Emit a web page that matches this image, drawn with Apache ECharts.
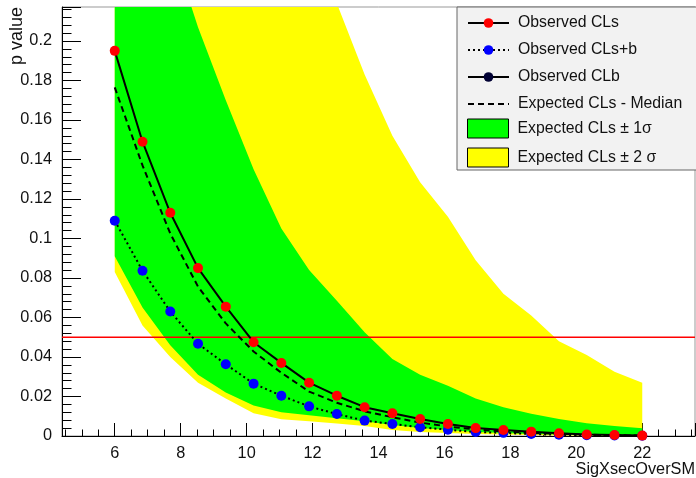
<!DOCTYPE html>
<html><head><meta charset="utf-8">
<script src="https://cdn.jsdelivr.net/npm/echarts@6/dist/echarts.min.js"></script>
<style>html,body{margin:0;padding:0;background:#fff}#c{width:696px;height:478px}</style>
</head><body><div id="c"></div>
<script>
// x positions (SigXsecOverSM)
const sigXsec = [6, 6.842, 7.684, 8.526, 9.368, 10.211, 11.053, 11.895, 12.737, 13.579,
  14.421, 15.263, 16.105, 16.947, 17.789, 18.632, 19.474, 20.316, 21.158, 22];
// Observed CLs (red)
const obsCLs = [0.195, 0.149, 0.113, 0.085, 0.0655, 0.0475, 0.037, 0.027, 0.0204, 0.0146,
  0.0115, 0.0086, 0.0061, 0.0040, 0.0030, 0.0022, 0.0014, 0.0008, 0.0005, 0.0002];
// Observed CLs+b (blue)
const obsCLsb = [0.109, 0.0837, 0.063, 0.0467, 0.0363, 0.0265, 0.0204, 0.015, 0.0111, 0.0078,
  0.0061, 0.0044, 0.0032, 0.0020, 0.0016, 0.0010, 0.0006, 0.0004, 0.0003, 0.0001];
// Observed CLb (off scale, above the plotted range)
const obsCLb = [0.56, 0.56, 0.56, 0.55, 0.55, 0.55, 0.55, 0.55, 0.54, 0.53,
  0.53, 0.52, 0.52, 0.51, 0.51, 0.50, 0.50, 0.50, 0.50, 0.50];
// Expected CLs median (dashed)
const expMedian = [0.1765, 0.137, 0.1025, 0.0756, 0.057, 0.0428, 0.032, 0.0225, 0.0168, 0.0125,
  0.0095, 0.0068, 0.0048, 0.0033, 0.0023, 0.0016, 0.0010, 0.0007, 0.0004, 0.0002];
// Expected +-1 sigma band
const expPlus1 = [0.36, 0.30, 0.25, 0.207, 0.170, 0.135, 0.105, 0.084, 0.0685, 0.0525,
  0.039, 0.031, 0.0255, 0.019, 0.0145, 0.0113, 0.0086, 0.0065, 0.005, 0.0039];
const expMinus1 = [0.091, 0.065, 0.046, 0.031, 0.022, 0.0155, 0.012, 0.0105, 0.009, 0.0075,
  0.0056, 0.004, 0.003, 0.002, 0.0015, 0.001, 0.0007, 0.0005, 0.0003, 0.0002];
// Expected +-2 sigma band
const expPlus2 = [0.70, 0.60, 0.53, 0.46, 0.40, 0.35, 0.30, 0.255, 0.219, 0.183,
  0.152, 0.1285, 0.111, 0.089, 0.072, 0.061, 0.048, 0.041, 0.0325, 0.027];
const expMinus2 = [0.083, 0.056, 0.040, 0.027, 0.019, 0.0115, 0.0085, 0.0075, 0.0063, 0.005,
  0.003, 0.002, 0.0015, 0.001, 0.0008, 0.0005, 0.0003, 0.0002, 0.0001, 0.0001];
// 95% CL limit line (p = 0.05) and axis range
const limitLine = 0.05;
const xRange = [4.4, 23.6];
const yRange = [0, 0.2172];

const FONT = '"Liberation Sans", Arial, Helvetica, sans-serif';
const TXT = '#111';
const pairs = ys => sigXsec.map((x, i) => [x, ys[i]]);

function band(name, lower, upper, color, z) {
  return {
    type: 'custom', name, clip: true, z, silent: true,
    itemStyle: { color },
    encode: { x: 0, y: [1, 2] },
    data: sigXsec.map((x, i) => [x, lower[i], upper[i]]),
    renderItem(params, api) {
      if (params.dataIndex !== 0) return null;
      const pts = [];
      for (let i = 0; i < sigXsec.length; i++) pts.push(api.coord([sigXsec[i], upper[i]]));
      for (let i = sigXsec.length - 1; i >= 0; i--) pts.push(api.coord([sigXsec[i], lower[i]]));
      return { type: 'polygon', shape: { points: pts }, style: { fill: color } };
    }
  };
}

const chart = echarts.init(document.getElementById('c'), null, { renderer: 'canvas' });
chart.setOption({
  animation: false,
  backgroundColor: '#fff',
  textStyle: { fontFamily: FONT },
  grid: { left: 62, right: 1, top: 7, bottom: 42, show: true, borderColor: '#999', borderWidth: 1,
          backgroundColor: 'transparent', containLabel: false, outerBoundsMode: 'none' },
  legend: [{
    orient: 'vertical', left: 457, top: 7, z: 10,
    padding: [8, 16, 58, 10], itemGap: 11, itemWidth: 41, itemHeight: 12,
    backgroundColor: '#f2f2f2', borderColor: '#666', borderWidth: 1, borderRadius: 0,
    selectedMode: false,
    textStyle: { fontFamily: FONT, fontSize: 15.8, color: TXT, padding: [0, 0, 0, 4] },
    data: [
      { name: 'Observed CLs' },
      { name: 'Observed CLs+b' },
      { name: 'Observed CLb' },
      { name: 'Expected CLs - Median', itemStyle: { color: 'rgba(0,0,0,0)', borderWidth: 0 } }
    ]
  }, {
    orient: 'vertical', left: 457, top: 118.5, z: 11,
    padding: [0, 0, 0, 10], itemGap: 9, itemWidth: 41, itemHeight: 19,
    selectedMode: false,
    textStyle: { fontFamily: FONT, fontSize: 15.8, color: TXT, padding: [0, 0, 0, 4] },
    data: [
      { name: 'Expected CLs \u00b1 1\u03c3', icon: 'rect', itemStyle: { color: '#00ff00', borderColor: '#000', borderWidth: 1 } },
      { name: 'Expected CLs \u00b1 2 \u03c3', icon: 'rect', itemStyle: { color: '#ffff00', borderColor: '#000', borderWidth: 1 } }
    ]
  }],
  graphic: [{
    type: 'text', right: 1, top: 462, silent: true,
    style: { text: 'SigXsecOverSM', fill: TXT, font: '16.3px ' + FONT }
  }],
  xAxis: {
    type: 'value', min: xRange[0], max: xRange[1], splitNumber: 10,
    axisLine: { onZero: false, lineStyle: { color: '#000', width: 1 } },
    axisTick: { inside: true, length: 13, lineStyle: { color: '#000' } },
    minorTick: { show: true, splitNumber: 4, length: 6.5, lineStyle: { color: '#000' } },
    axisLabel: { margin: 10, fontSize: 16.3, color: TXT, fontFamily: FONT, showMinLabel: false, showMaxLabel: false },
    splitLine: { show: false }
  },
  yAxis: {
    type: 'value', min: yRange[0], max: yRange[1], interval: 0.02,
    name: 'p value', nameLocation: 'end', nameGap: 0, nameRotate: 90,
    nameTextStyle: { align: 'right', verticalAlign: 'bottom', padding: [0, 0, 36, 0], fontSize: 18, fontFamily: FONT, color: TXT },
    axisLine: { onZero: false, lineStyle: { color: '#000', width: 1 } },
    axisTick: { inside: true, length: 19, lineStyle: { color: '#000' } },
    minorTick: { show: true, splitNumber: 5, length: 9.5, lineStyle: { color: '#000' } },
    axisLabel: { margin: 10, fontSize: 16.3, color: TXT, fontFamily: FONT, showMaxLabel: false },
    splitLine: { show: false }
  },
  series: [
    band('Expected CLs \u00b1 2 \u03c3', expMinus2, expPlus2, '#ffff00', 1),
    band('Expected CLs \u00b1 1\u03c3', expMinus1, expPlus1, '#00ff00', 2),
    {
      type: 'line', name: 'p = 0.05', data: xRange.map(x => [x, limitLine]), z: 3, silent: true,
      symbol: 'none', clip: true, itemStyle: { color: '#ff0000' }, lineStyle: { color: '#ff0000', width: 1.4 }
    },
    {
      type: 'line', name: 'Expected CLs - Median', data: pairs(expMedian), z: 4,
      symbol: 'none', clip: true, silent: true,
      itemStyle: { color: '#000' },
      lineStyle: { color: '#000', width: 2, type: [6, 4] }
    },
    {
      type: 'line', name: 'Observed CLb', data: pairs(obsCLb), z: 4,
      symbol: 'circle', symbolSize: 10, clip: true, silent: true,
      itemStyle: { color: '#000033' },
      lineStyle: { color: '#000', width: 2 }
    },
    {
      type: 'line', name: 'Observed CLs+b', data: pairs(obsCLsb), z: 5,
      symbol: 'circle', symbolSize: 10, clip: true, silent: true,
      itemStyle: { color: '#0000ff' },
      lineStyle: { color: '#000', width: 2, type: [2, 3] }
    },
    {
      type: 'line', name: 'Observed CLs', data: pairs(obsCLs), z: 6,
      symbol: 'circle', symbolSize: 10, clip: true, silent: true,
      itemStyle: { color: '#ff0000' },
      lineStyle: { color: '#000', width: 2 }
    }
  ]
});
</script></body></html>
